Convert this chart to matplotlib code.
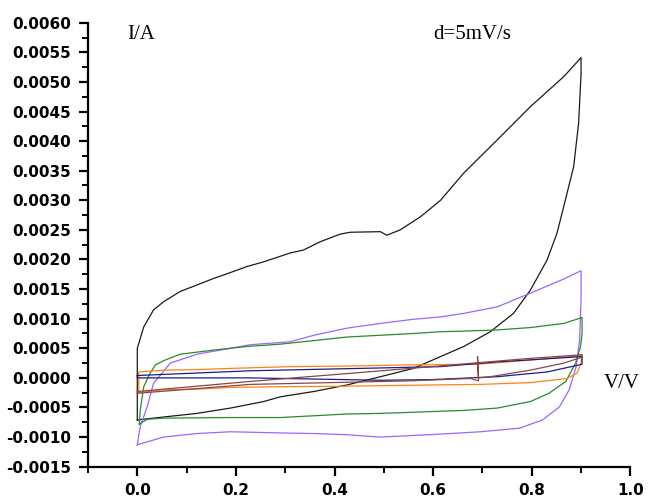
import matplotlib
matplotlib.use("Agg")
import matplotlib.pyplot as plt
from matplotlib.ticker import MultipleLocator, FormatStrFormatter

# ---- data ----
black_v = [0, 0, 0.013, 0.033, 0.054, 0.087, 0.121, 0.155, 0.189, 0.222, 0.256, 0.310, 0.337,
           0.371, 0.412, 0.432, 0.493, 0.506, 0.533, 0.574, 0.615, 0.662, 0.730, 0.797, 0.865, 0.900,
           0.900, 0.895, 0.885, 0.868, 0.851, 0.831, 0.797, 0.763, 0.716, 0.662, 0.615, 0.560, 0.493,
           0.425, 0.358, 0.290, 0.256, 0.189, 0.121, 0.054, 0]
black_i = [-0.00071, 0.00050, 0.00086, 0.00115, 0.00129, 0.00146, 0.00157, 0.00168, 0.00178, 0.00188,
           0.00196, 0.00211, 0.00216, 0.00230, 0.00243, 0.00246, 0.00247, 0.00241, 0.00250, 0.00272,
           0.00300, 0.00346, 0.00402, 0.00458, 0.00509, 0.00541,
           0.00514, 0.00430, 0.00357, 0.00300, 0.00244, 0.00199, 0.00148, 0.00109, 0.00078, 0.00053,
           0.00036, 0.00016, 0.00002, -0.00012, -0.00023, -0.00032, -0.00040, -0.00051, -0.00060,
           -0.00066, -0.00071]

purple_v = [0, 0.006, 0.020, 0.033, 0.067, 0.121, 0.189, 0.229, 0.310, 0.358, 0.425, 0.493, 0.560,
            0.615, 0.662, 0.730, 0.797, 0.865, 0.900,
            0.900, 0.897, 0.890, 0.876, 0.856, 0.822, 0.775, 0.696, 0.615, 0.493, 0.425, 0.358,
            0.290, 0.189, 0.121, 0.053, 0]
purple_i = [-0.00113, -0.00082, -0.00049, -0.00009, 0.00025, 0.00040, 0.00050, 0.00056, 0.00061,
            0.00072, 0.00084, 0.00092, 0.00099, 0.00103, 0.00109, 0.00120, 0.00143, 0.00167, 0.00181,
            0.00132, 0.00064, 0.00019, -0.00020, -0.00049, -0.00071, -0.00085, -0.00091, -0.00095,
            -0.00100, -0.00096, -0.00094, -0.00093, -0.00091, -0.00094, -0.00100, -0.00113]

green_v = [0.004, 0.006, 0.013, 0.026, 0.037, 0.053, 0.087, 0.155, 0.222, 0.290, 0.358, 0.425,
           0.493, 0.560, 0.615, 0.662, 0.730, 0.797, 0.865, 0.902,
           0.902, 0.899, 0.889, 0.869, 0.835, 0.797, 0.730, 0.662, 0.594, 0.493, 0.425, 0.358,
           0.290, 0.189, 0.053, 0.020, 0.004]
green_i = [-0.00078, -0.00054, -0.00015, 0.00008, 0.00022, 0.00029, 0.00040, 0.00047, 0.00053,
           0.00057, 0.00063, 0.00069, 0.00072, 0.00075, 0.00078, 0.00079, 0.00081, 0.00085, 0.00092,
           0.00102,
           0.00075, 0.00053, 0.00025, -0.00006, -0.00026, -0.00040, -0.00051, -0.00055, -0.00057,
           -0.00060, -0.00061, -0.00064, -0.00067, -0.00067, -0.00068, -0.00070, -0.00078]

orange_v = [0.003, 0.003, 0.053, 0.121, 0.189, 0.310, 0.425, 0.560, 0.689, 0.797, 0.892, 0.902,
            0.900, 0.892, 0.872, 0.797, 0.696, 0.594, 0.425, 0.290, 0.189, 0.121, 0.053, 0.003]
orange_i = [-0.00024, 0.00010, 0.00013, 0.00014, 0.00016, 0.00019, 0.00020, 0.00022, 0.00023,
            0.00030, 0.00037, 0.00039,
            0.00025, 0.00008, -0.00001, -0.00008, -0.00011, -0.00012, -0.00014, -0.00015, -0.00016,
            -0.00019, -0.00020, -0.00025]

navy_v = [0, 0.229, 0.615, 0.730, 0.902, 0.902, 0.831, 0.730, 0.594, 0.493, 0.229, 0, 0]
navy_i = [0.00004, 0.00012, 0.00019, 0.00027, 0.00036, 0.00023, 0.00010, 0.00002, -0.00003,
          -0.00004, 0.00000, 0.00000, 0.00004]

brown_v = [0, 0.229, 0.554, 0.797, 0.902, 0.902, 0.865, 0.797, 0.716, 0.692, 0.690, 0.692, 0.675,
           0.554, 0.229, 0]
brown_i = [-0.00023, -0.00006, 0.00016, 0.00033, 0.00039, 0.00035, 0.00025, 0.00013, 0.00002,
           0.00000, 0.00036, -0.00005, -0.00001, -0.00005, -0.00011, -0.00026]

x_ticks = [0.0, 0.2, 0.4, 0.6, 0.8, 1.0]

# ---- figure ----
fig = plt.figure(figsize=(6.48, 4.98), dpi=100)
ax = fig.add_axes([0.1358, 0.0629, 0.8370, 0.8915])

lw = 0.9
ax.plot(black_v, black_i, color='#1a1a1a', lw=lw)
ax.plot(purple_v, purple_i, color='#9966ff', lw=lw)
ax.plot(green_v, green_i, color='#2a8a2a', lw=lw)
ax.plot(orange_v, orange_i, color='#ff8410', lw=lw)
ax.plot(navy_v, navy_i, color='#1c1c8c', lw=lw)
ax.plot(brown_v, brown_i, color='#8b4545', lw=lw)

ax.set_xlim(-0.1, 1.0)
ax.set_ylim(-0.0015, 0.0060)

for s in ['top', 'right']:
    ax.spines[s].set_visible(False)
for s in ['left', 'bottom']:
    ax.spines[s].set_linewidth(1.6)

ax.set_xticks(x_ticks)
ax.xaxis.set_minor_locator(MultipleLocator(0.1))
ax.yaxis.set_major_locator(MultipleLocator(0.0005))
ax.yaxis.set_minor_locator(MultipleLocator(0.00025))
ax.xaxis.set_major_formatter(FormatStrFormatter('%.1f'))
ax.yaxis.set_major_formatter(FormatStrFormatter('%.4f'))

ax.tick_params(which='major', direction='out', length=6.5, width=1.6, pad=5.5)
ax.tick_params(which='minor', direction='out', length=4, width=1.4)
for lab in ax.get_xticklabels() + ax.get_yticklabels():
    lab.set_fontfamily('DejaVu Sans')
    lab.set_fontweight('bold')
    lab.set_fontsize(11)

ax.text(-0.021, 0.005725, 'I/A', family='Liberation Serif', fontsize=15)
ax.text(0.601, 0.005725, 'd=5mV/s', family='Liberation Serif', fontsize=15)
ax.text(0.947, -0.000165, 'V/V', family='Liberation Serif', fontsize=15, clip_on=False)

fig.savefig('out.png', dpi=100)
